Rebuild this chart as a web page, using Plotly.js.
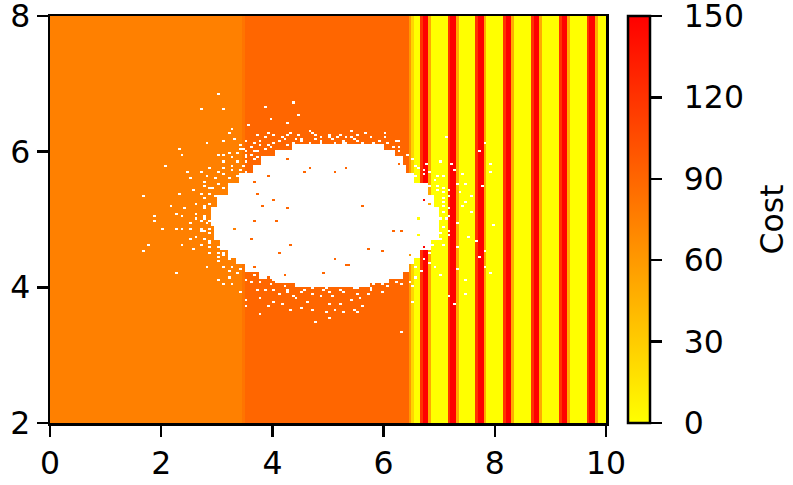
<!DOCTYPE html>
<html>
<head>
<meta charset="utf-8">
<script src="https://cdn.plot.ly/plotly-3.0.1.min.js"></script>
<style>
    html, body { margin: 0; padding: 0; background: #fff; }
    #plot { width: 793px; height: 485px; }
</style>
</head>
<body>
<div id="plot"></div>
<script>
// grid: 200 columns over x 0..10, 200 rows over y 2..8
var nCols = 200, nRows = 200;
var xStart = 0, xStep = 0.05, yStart = 2, yStep = 0.03;

// cost along x (the same in every row)
var costLeft = 75, costSeam = 82, costMid = 90;
var seamCol = 69;                 // x 3.45..3.5
var rampStartCol = 129;           // x 6.45..
var rampCosts = [60, 25];
var stripeCosts = [0, 0, 120, 150, 150, 50, 0, 0, 0, 0];   // one 0.5 wide period

var cbTicks = [0, 30, 60, 90, 120, 150];
var xTicks = [0, 2, 4, 6, 8, 10];
var yTicks = [2, 4, 6, 8];

// solid empty core of the blob, in bands: top y of band, left x, right x
var coreTop   = [6.10, 6.02, 5.93, 5.82, 5.70, 5.53, 5.36, 5.17, 4.92, 4.71, 4.55, 4.43, 4.33, 4.23, 4.14, 4.06];
var coreLeft  = [4.35, 4.05, 3.80, 3.65, 3.42, 3.18, 3.00, 2.90, 2.95, 3.05, 3.18, 3.33, 3.50, 3.75, 4.05, 4.40];
var coreRight = [6.00, 6.20, 6.33, 6.42, 6.56, 6.78, 6.92, 7.00, 6.98, 6.85, 6.65, 6.53, 6.47, 6.35, 6.12, 5.75];
var coreBottom = 4.00;

// loose empty cells around the blob
var emptyX = [3.01, 2.71, 3.11, 3.87, 4.37, 4.46, 3.96, 3.57, 4.30, 3.27, 3.21, 3.94, 4.35, 4.66, 4.77, 5.41, 5.04,
    2.82, 3.12, 3.33, 2.33, 2.37, 3.01, 3.24, 3.42, 2.07, 2.46, 2.73, 2.55, 2.76, 2.58, 2.34, 1.67, 2.17, 2.43, 2.28,
    1.86, 1.86, 2.01, 2.25, 2.52, 2.40, 2.61, 2.76, 2.37, 2.55, 1.67, 1.77, 2.39, 2.55, 2.58, 2.27, 2.82, 3.03, 3.21,
    3.11, 3.30, 3.42, 3.53, 3.53, 3.75, 3.76, 3.94, 4.17, 4.35, 4.38, 4.62, 4.77, 4.74, 4.98, 5.01, 5.13, 5.22, 5.28,
    5.46, 5.40, 4.11, 4.86, 7.12, 7.81, 7.72, 7.21, 7.25, 7.40, 6.76, 6.74, 7.01, 6.96, 7.31, 7.49, 7.37, 7.19, 7.91,
    7.76, 7.60, 7.49, 7.40, 7.58, 7.31, 7.19, 7.34, 7.66, 7.54, 7.81, 7.70, 7.85, 7.31, 7.01, 7.46, 7.15, 7.49, 7.25,
    6.91, 6.51, 6.51, 6.31, 7.91, 7.97, 7.93, 5.01, 4.89, 5.13, 5.67, 6.01, 5.61, 6.26, 6.26, 4.38, 4.65, 4.21,
    7.05, 7.10, 7.05, 7.12, 7.06, 7.10, 7.02, 6.95, 7.15, 4.60, 4.95, 5.20, 5.55, 5.80, 5.95, 6.10, 4.30, 5.05, 5.70,
    4.50, 4.95, 5.30, 5.50, 5.85, 6.05, 3.80, 3.65, 3.55, 2.80, 2.85, 2.75, 2.82, 2.85, 2.90, 3.00, 2.70,
    // upper-left fringe
    3.72, 3.87, 4.05, 4.19, 4.30, 4.44, 4.73, 4.86, 5.00, 5.09, 5.22, 5.43,
    3.42, 3.54, 3.69, 3.78, 3.90, 4.01, 4.14, 4.28, 4.50, 4.62, 4.68, 4.86, 5.09, 5.34, 5.52,
    3.45, 3.55, 3.62, 3.70, 3.85, 3.95, 3.15, 3.28, 3.35, 3.50, 3.60, 3.70,
    3.10, 3.25, 3.35, 3.45, 3.55, 3.68, 2.85, 3.00, 3.12, 3.30, 3.40, 3.52,
    2.82, 2.95, 3.10, 3.20, 3.35, 2.80, 2.92, 3.02, 3.10, 2.70, 2.80, 2.88, 2.95,
    2.65, 2.78, 2.85, 2.62, 2.70, 2.78, 2.85, 2.72, 2.80, 2.88,
    // lower-left and bottom fringe
    2.65, 2.75, 2.85, 2.95, 2.70, 2.88, 3.00, 2.90, 3.00, 3.10, 3.05, 3.20, 3.15,
    3.10, 3.25, 3.40, 3.35, 3.55, 3.65, 3.20,
    3.50, 3.62, 3.80, 3.95, 4.05, 4.20, 4.45, 4.70, 5.00, 5.25, 5.45, 5.65, 5.85, 6.00, 6.20,
    3.70, 3.88, 4.05, 4.25, 4.50, 4.70, 4.90, 5.10, 5.30, 5.50, 5.75, 5.95, 4.40, 5.60,
    4.05, 4.55, 5.05, 5.62, 5.55,
    // right fringe
    6.40, 6.50, 6.55, 6.62, 6.70, 6.85, 6.60, 6.90, 7.05,
    6.85, 6.95, 7.05, 7.15, 7.08, 7.18, 7.03, 7.10, 7.00, 7.15, 6.95, 7.05, 6.88,
    6.75, 6.85, 6.70, 6.80, 6.60, 6.65, 6.55, 6.45, 6.35,
    // top fringe
    4.15, 4.45, 4.55, 4.80, 5.15, 5.35, 5.45, 5.75, 5.90, 6.10, 6.15, 6.30, 6.20, 5.55, 5.25];
var emptyY = [6.85, 6.64, 6.64, 6.67, 6.73, 6.55, 6.48, 6.39, 6.43, 6.33, 6.27, 6.27, 6.27, 6.31, 6.25, 6.31, 6.20,
    6.11, 6.16, 6.18, 6.02, 5.93, 5.95, 5.98, 6.03, 5.80, 5.71, 5.71, 5.61, 5.56, 5.43, 5.38, 5.35, 5.19, 5.16, 5.08,
    5.05, 4.98, 4.87, 4.87, 4.94, 5.04, 5.07, 5.02, 4.87, 4.87, 4.54, 4.62, 4.61, 4.70, 4.56, 4.21, 4.29, 4.11, 4.13,
    4.04, 4.04, 3.94, 3.81, 3.71, 3.85, 3.60, 3.71, 3.74, 3.67, 3.88, 3.78, 3.49, 3.67, 3.63, 3.55, 3.65, 3.74, 3.63,
    3.67, 3.81, 3.89, 3.86, 6.22, 6.13, 6.00, 5.83, 5.73, 5.68, 5.83, 5.73, 5.85, 5.63, 5.53, 5.53, 5.41, 5.43, 5.83,
    5.48, 5.33, 5.24, 5.19, 5.11, 4.94, 4.77, 4.60, 4.67, 4.75, 4.54, 4.45, 4.31, 4.27, 4.16, 4.11, 3.87, 3.91, 3.74,
    4.30, 4.03, 3.79, 3.34, 4.21, 4.92, 5.70, 6.22, 6.13, 6.13, 6.27, 6.28, 6.13, 6.15, 6.07, 6.12, 6.12, 6.18,
    5.30, 5.20, 5.10, 5.00, 4.90, 5.45, 4.72, 5.50, 5.05, 3.97, 3.99, 3.96, 3.98, 4.00, 4.05, 4.02, 3.95, 3.92, 3.90,
    6.18, 6.10, 6.12, 6.16, 6.12, 6.20, 6.10, 6.00, 5.95, 5.30, 5.45, 5.20, 4.95, 4.80, 4.65, 4.50, 4.85,
    6.24, 6.21, 6.25, 6.20, 6.23, 6.19, 6.26, 6.21, 6.24, 6.19, 6.23, 6.20,
    6.10, 6.14, 6.11, 6.15, 6.09, 6.13, 6.16, 6.10, 6.14, 6.09, 6.12, 6.15, 6.10, 6.13, 6.09,
    6.04, 6.00, 6.05, 6.01, 6.03, 6.06, 5.95, 5.91, 5.96, 5.92, 5.94, 5.90,
    5.85, 5.81, 5.86, 5.80, 5.84, 5.87, 5.75, 5.71, 5.76, 5.72, 5.74, 5.70,
    5.65, 5.61, 5.66, 5.62, 5.64, 5.50, 5.46, 5.51, 5.47, 5.36, 5.32, 5.37, 5.33,
    5.21, 5.17, 5.22, 5.02, 4.98, 5.03, 4.99, 4.87, 4.83, 4.86,
    4.75, 4.70, 4.68, 4.75, 4.62, 4.58, 4.60, 4.50, 4.45, 4.50, 4.38, 4.40, 4.47,
    4.30, 4.28, 4.25, 4.20, 4.22, 4.18, 4.22,
    4.12, 4.08, 4.10, 4.06, 4.12, 4.02, 4.05, 4.00, 4.01, 4.02, 4.00, 4.05, 4.06, 4.08, 4.10,
    3.97, 3.95, 3.97, 3.92, 3.93, 3.90, 3.95, 3.88, 3.93, 3.91, 3.95, 3.93, 3.85, 3.85,
    3.78, 3.70, 3.75, 3.72, 3.62,
    5.95, 5.88, 5.80, 5.75, 5.68, 5.70, 5.65, 5.60, 5.65,
    5.50, 5.42, 5.40, 5.35, 5.25, 5.15, 5.00, 4.88, 4.80, 4.82, 4.70, 4.62, 4.62,
    4.55, 4.50, 4.40, 4.35, 4.30, 4.22, 4.15, 4.10, 4.05,
    6.22, 6.25, 6.18, 6.18, 6.20, 6.22, 6.18, 6.20, 6.15, 6.12, 6.05, 6.00, 6.16, 6.25, 6.15];

// cells inside the blob that still carry a cost
var filledX = [3.66, 3.72, 4.02, 4.26, 3.81, 3.93, 4.26, 4.56, 4.66, 5.13, 5.35, 3.31, 3.66, 4.09, 3.60, 4.12, 4.32,
    5.11, 5.36, 4.90, 4.21, 3.91, 3.65, 5.61, 6.16, 6.35, 5.99, 5.71, 5.34, 6.61, 6.61, 6.70, 6.80, 6.74, 6.69, 6.29,
    5.32, 6.47];
var filledY = [5.56, 5.38, 5.29, 5.16, 5.20, 5.64, 5.89, 5.70, 5.77, 5.70, 5.77, 4.87, 4.99, 4.98, 4.72, 4.50, 4.62,
    4.42, 4.32, 4.19, 4.17, 4.13, 4.29, 5.20, 4.83, 4.83, 4.54, 4.56, 4.33, 5.02, 4.77, 5.29, 5.21, 4.60, 4.45, 5.83,
    5.75, 4.48];

var colorScale = [[0, 'rgb(255,255,0)'], [1, 'rgb(255,0,0)']];
var fontFamily = '"DejaVu Sans", sans-serif';
var fontSize = 31.5;

function columnCost(c) {
    if (c < seamCol) return costLeft;
    if (c === seamCol) return costSeam;
    if (c < rampStartCol) return costMid;
    if (c < rampStartCol + rampCosts.length) return rampCosts[c - rampStartCol];
    return stripeCosts[(c - rampStartCol - rampCosts.length) % stripeCosts.length];
}

function colOf(x) { return Math.floor((x - xStart) / xStep); }
function rowOf(y) { return Math.floor((y - yStart) / yStep); }

var colCost = [];
for (var c = 0; c < nCols; c++) colCost.push(columnCost(c));

var z = [];
for (var r = 0; r < nRows; r++) {
    var yc = yStart + (r + 0.5) * yStep;
    var band = -1;
    for (var b = 0; b < coreTop.length; b++) {
        var low = b + 1 < coreTop.length ? coreTop[b + 1] : coreBottom;
        if (yc <= coreTop[b] && yc > low) { band = b; break; }
    }
    var row = [];
    for (var c = 0; c < nCols; c++) {
        var xc = xStart + (c + 0.5) * xStep;
        if (band >= 0 && xc >= coreLeft[band] && xc <= coreRight[band]) row.push(null);
        else row.push(colCost[c]);
    }
    z.push(row);
}
emptyX.forEach(function (x, i) {
    z[rowOf(emptyY[i])][colOf(x)] = null;
});
filledX.forEach(function (x, i) {
    var c = colOf(x);
    z[rowOf(filledY[i])][c] = colCost[c];
});

var trace = {
    type: 'heatmap',
    z: z,
    x0: xStart + xStep / 2, dx: xStep,
    y0: yStart + yStep / 2, dy: yStep,
    zmin: 0, zmax: 150,
    zsmooth: false,
    colorscale: colorScale,
    hoverinfo: 'skip',
    colorbar: {
        x: (628 - 50) / 556, xanchor: 'left', xref: 'paper', xpad: 0,
        y: 0.5, yanchor: 'middle', ypad: 0,
        len: 1, lenmode: 'fraction',
        thickness: 22, thicknessmode: 'pixels',
        outlinewidth: 2.5, outlinecolor: '#000',
        tickmode: 'array', tickvals: cbTicks,
        ticktext: cbTicks.map(function (v) { return '\u2002' + v; }),
        ticks: 'outside', ticklen: 11, tickwidth: 2.5, tickcolor: '#000',
        ticklabeloverflow: 'allow',
        tickfont: {family: fontFamily, size: fontSize, color: '#000'}
    }
};

var axisStyle = {
    showgrid: false, zeroline: false,
    showline: true, mirror: true, linewidth: 2.5, linecolor: '#000',
    ticks: 'outside', ticklen: 11, tickwidth: 2.5, tickcolor: '#000',
    ticklabeloverflow: 'allow',
    tickfont: {family: fontFamily, size: fontSize, color: '#000'}
};

var layout = {
    width: 793, height: 485,
    margin: {l: 50, r: 187, t: 16, b: 62, pad: 0},
    paper_bgcolor: '#fff', plot_bgcolor: '#fff',
    font: {family: fontFamily, color: '#000'},
    xaxis: Object.assign({}, axisStyle, {range: [0, 10], tickvals: xTicks}),
    yaxis: Object.assign({}, axisStyle, {range: [2, 8], tickvals: yTicks}),
    annotations: [{
        text: 'Cost', xref: 'paper', yref: 'paper',
        x: (771 - 50) / 556, y: 0.5, xanchor: 'center', yanchor: 'middle',
        textangle: -90, showarrow: false,
        font: {family: fontFamily, size: fontSize, color: '#000'}
    }]
};

Plotly.newPlot('plot', [trace], layout, {staticPlot: true});
</script>
</body>
</html>
